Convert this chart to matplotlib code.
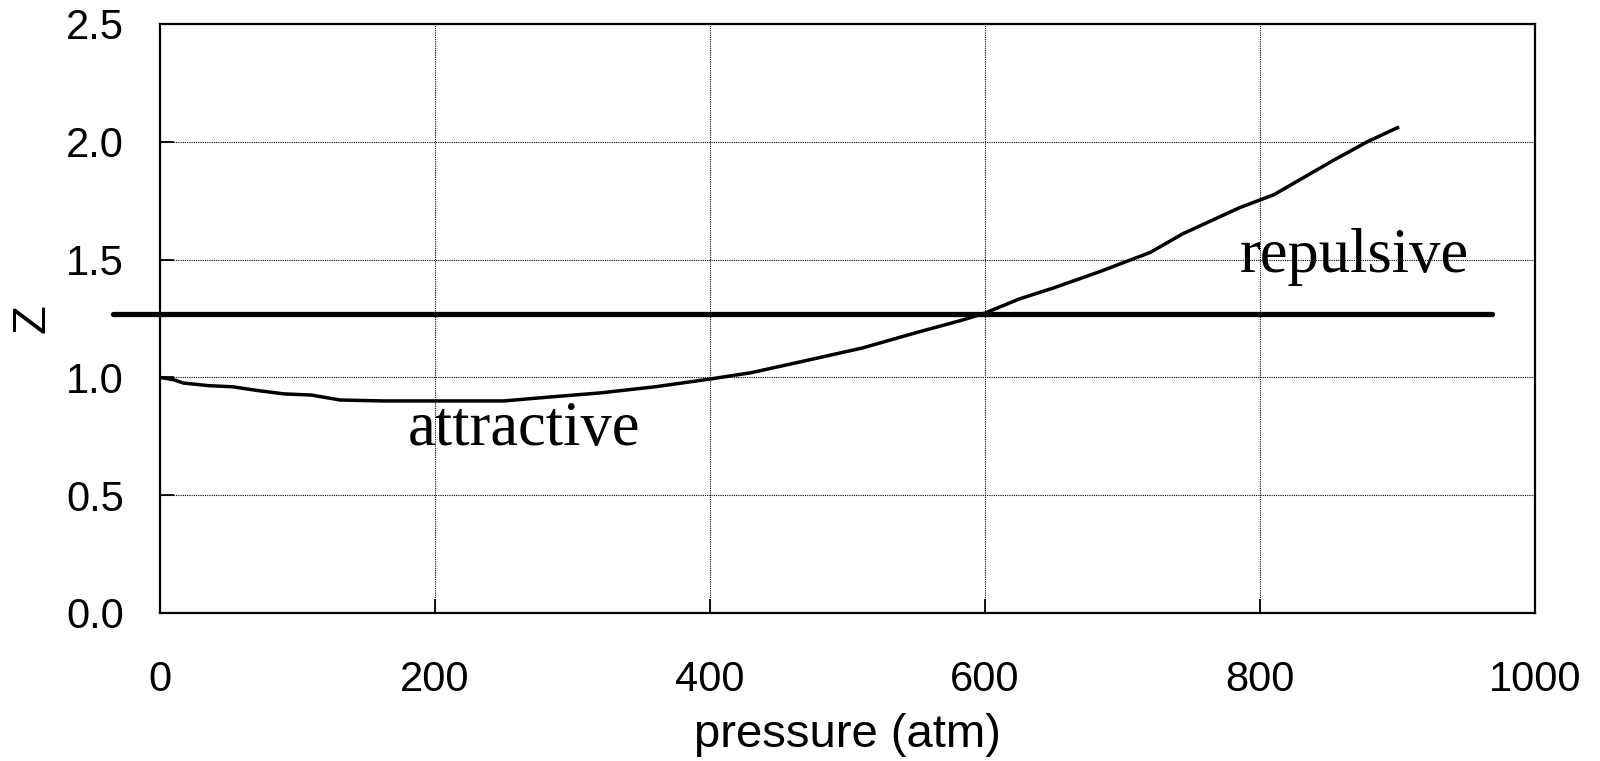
import matplotlib.pyplot as plt

# pressure (atm) and compressibility factor Z
pressure = [0, 10, 17, 35, 53, 70, 90, 110, 131, 162, 200, 250, 280, 320,
            360, 400, 430, 465, 511, 550, 584, 600, 625, 650, 684, 720,
            744, 785, 810, 853, 878, 900]
z_factor = [1.0, 0.99, 0.976, 0.965, 0.96, 0.945, 0.93, 0.925, 0.904, 0.90,
            0.90, 0.90, 0.915, 0.934, 0.96, 0.993, 1.02, 1.065, 1.125, 1.19,
            1.244, 1.273, 1.333, 1.38, 1.45, 1.53, 1.61, 1.72, 1.775, 1.92,
            2.0, 2.06]

ref_x = [-34, 969]
ref_z = [1.269, 1.269]

x_ticks = [0, 200, 400, 600, 800, 1000]
y_ticks = [0.0, 0.5, 1.0, 1.5, 2.0, 2.5]

plt.rcParams['font.family'] = ['Liberation Sans', 'DejaVu Sans']

fig = plt.figure(figsize=(16, 7.61), dpi=100)
ax = fig.add_axes([0.1, 0.1945, 0.8594, 0.774])

ax.plot(pressure, z_factor, color='black', linewidth=2.5, solid_joinstyle='round')
ax.plot(ref_x, ref_z, color='black', linewidth=3.8, solid_capstyle='round', clip_on=False)

ax.set_xlim(0, 1000)
ax.set_ylim(0, 2.5)
ax.set_xticks(x_ticks)
ax.set_yticks(y_ticks)
ax.set_yticklabels([f'{v:.1f}' for v in y_ticks])
ax.grid(True, color='black', linestyle=(0, (1, 1)), linewidth=0.8)
ax.set_axisbelow(True)
ax.tick_params(direction='in', length=10, width=1.3, labelsize=30)
ax.tick_params(axis='x', pad=34)
ax.tick_params(axis='y', pad=26)
for sp in ax.spines.values():
    sp.set_linewidth(1.6)

ax.set_xlabel('pressure (atm)', fontsize=34, labelpad=9)
ax.set_ylabel('Z', fontsize=34, labelpad=8)

ax.text(180, 0.713, 'attractive', fontsize=45, family='Liberation Serif', va='baseline')
ax.text(785, 1.447, 'repulsive', fontsize=45, family='Liberation Serif', va='baseline')

fig.savefig('out.png', dpi=100)
